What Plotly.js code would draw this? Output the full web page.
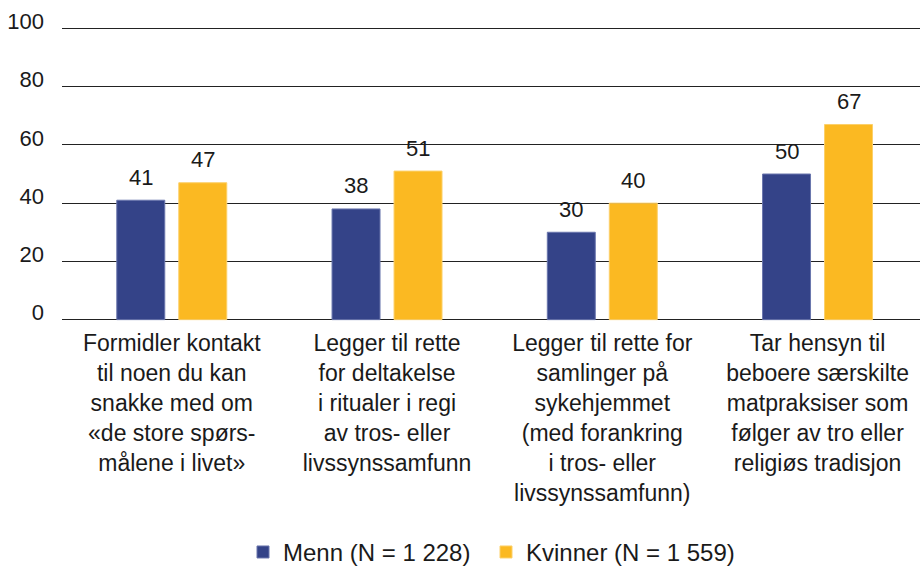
<!DOCTYPE html>
<html><head><meta charset="utf-8">
<script src="https://cdn.plot.ly/plotly-3.0.1.min.js"></script>
<style>html,body{margin:0;padding:0;background:#fff}#chart{width:920px;height:568px}</style>
</head><body><div id="chart"></div>
<script>
const categoryLines = [
  ["Formidler kontakt", "til noen du kan", "snakke med om", "«de store spørs-", "målene i livet»"],
  ["Legger til rette", "for deltakelse", "i ritualer i regi", "av tros- eller", "livssynssamfunn"],
  ["Legger til rette for", "samlinger på", "sykehjemmet", "(med forankring", "i tros- eller", "livssynssamfunn)"],
  ["Tar hensyn til", "beboere særskilte", "matpraksiser som", "følger av tro eller", "religiøs tradisjon"]
];
const categories = categoryLines.map(l => l.join("<br>"));
const menn = [41, 38, 30, 50];
const kvinner = [47, 51, 40, 67];
const seriesNames = ["Menn (N = 1 228)", "Kvinner (N = 1 559)"];
const yTicks = [0, 20, 40, 60, 80, 100];

const colors = ["#344388", "#FBB922"];
const lineColors = ["#6a76ad", "#fcd06a"];
const font = "Liberation Sans, Arial, sans-serif";
const bargap = 0.424, bargroupgap = 0.226;
const off = (1 - bargap) / 4;

const traces = [menn, kvinner].map((vals, k) => ({
  type: "bar", x: categories, y: vals, name: seriesNames[k],
  legend: k === 0 ? "legend" : "legend2",
  marker: {color: colors[k], line: {color: lineColors[k], width: 1}},
  hoverinfo: "none"
}));

const annotations = [];
[menn, kvinner].forEach((vals, k) => {
  vals.forEach((v, i) => {
    annotations.push({
      x: i + (k === 0 ? -off : off), xref: "x", y: v, yref: "y",
      text: String(v), showarrow: false, yanchor: "middle", yshift: 23,
      font: {family: font, size: 22, color: "#1a1a1a"}
    });
  });
});

const legendBase = {
  orientation: "h", xref: "container", yref: "container", xanchor: "left",
  y: 0.0275, yanchor: "middle", itemwidth: 30, bgcolor: "rgba(0,0,0,0)",
  font: {family: font, size: 24, color: "#1a1a1a"}
};

const layout = {
  width: 920, height: 568,
  margin: {l: 62, r: 0, t: 23.9, b: 243.6},
  paper_bgcolor: "#fff", plot_bgcolor: "#fff",
  barmode: "group", bargap: bargap, bargroupgap: bargroupgap,
  font: {family: font, size: 22, color: "#1a1a1a"},
  xaxis: {type: "category", range: [-0.51, 3.476], showticklabels: true,
          tickangle: 0, ticks: "", ticklabelstandoff: 3, automargin: false,
          tickfont: {family: font, size: 23, color: "#1a1a1a"},
          showgrid: false, zeroline: false, showline: false, fixedrange: true},
  yaxis: {range: [-1.5, 101.5], tickvals: yTicks, ticktext: yTicks.map(String),
          showgrid: true, gridcolor: "#222", gridwidth: 1, zeroline: false,
          showline: false, ticks: "", ticklabelshift: -7, ticklabelstandoff: 17,
          automargin: false,
          tickfont: {family: font, size: 22, color: "#1a1a1a"}, fixedrange: true},
  showlegend: true,
  legend: Object.assign({}, legendBase, {x: 243 / 920}),
  legend2: Object.assign({}, legendBase, {x: 486 / 920}),
  annotations: annotations
};

Plotly.newPlot("chart", traces, layout, {displayModeBar: false, staticPlot: true});
</script></body></html>
